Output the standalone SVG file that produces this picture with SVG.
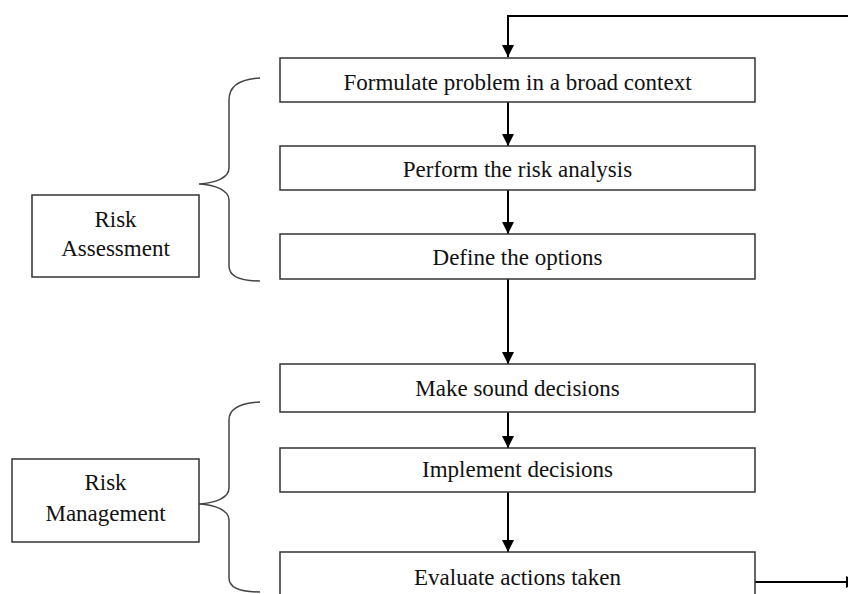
<svg xmlns="http://www.w3.org/2000/svg" width="848" height="594" viewBox="0 0 848 594">
<defs>
<marker id="ah" viewBox="0 0 12 12" refX="12" refY="6" markerWidth="12" markerHeight="12" markerUnits="userSpaceOnUse" orient="auto">
<path d="M0,0 L12,6 L0,12 Z" fill="#000"/>
</marker>
<style>
.box{fill:#fff;stroke:#333;stroke-width:1.5}
.t{font-family:"Liberation Serif","Times New Roman",serif;font-size:23px;fill:#111;text-anchor:middle}
.c{fill:none;stroke:#000;stroke-width:2}
.br{fill:none;stroke:#444;stroke-width:1.5}
</style>
</defs>
<rect width="848" height="594" fill="#fff"/>
<g id="connectors">
<path class="c" d="M848,16 L508,16 L508,57" marker-end="url(#ah)"/>
<path class="c" d="M508,102 L508,146" marker-end="url(#ah)"/>
<path class="c" d="M508,190 L508,234" marker-end="url(#ah)"/>
<path class="c" d="M508,279 L508,364" marker-end="url(#ah)"/>
<path class="c" d="M508,412 L508,448" marker-end="url(#ah)"/>
<path class="c" d="M508,492 L508,552" marker-end="url(#ah)"/>
<path class="c" d="M755,582 L858,582" marker-end="url(#ah)"/>
</g>
<g id="brace-assessment">
<path class="br" d="M260,78 C240,79 229,86 229,100 L229,168 C229,178 215,183 199,184 C215,185 229,190 229,200 L229,266 C229,276 240,281 260,281"/>
</g>
<g id="brace-management">
<path class="br" d="M260,402 C240,403 229,409 229,420 L229,488 C229,498 215,503 199,504 C215,505 229,510 229,520 L229,578 C229,588 240,592 260,592"/>
</g>
<g id="risk-assessment">
<rect class="box" x="32" y="195" width="167" height="82"/>
<text class="t" x="115.5" y="227">Risk</text>
<text class="t" x="115.5" y="256">Assessment</text>
</g>
<g id="risk-management">
<rect class="box" x="12" y="459" width="187" height="83"/>
<text class="t" x="105.5" y="490">Risk</text>
<text class="t" x="105.5" y="521">Management</text>
</g>
<g id="n1">
<rect class="box" x="280" y="58" width="475" height="44"/>
<text class="t" x="517.5" y="90">Formulate problem in a broad context</text>
</g>
<g id="n2">
<rect class="box" x="280" y="146" width="475" height="44"/>
<text class="t" x="517.5" y="177">Perform the risk analysis</text>
</g>
<g id="n3">
<rect class="box" x="280" y="234" width="475" height="45"/>
<text class="t" x="517.5" y="265">Define the options</text>
</g>
<g id="n4">
<rect class="box" x="280" y="364" width="475" height="48"/>
<text class="t" x="517.5" y="396">Make sound decisions</text>
</g>
<g id="n5">
<rect class="box" x="280" y="448" width="475" height="44"/>
<text class="t" x="517.5" y="477">Implement decisions</text>
</g>
<g id="n6">
<rect class="box" x="280" y="552" width="475" height="50"/>
<text class="t" x="517.5" y="585">Evaluate actions taken</text>
</g>
</svg>
